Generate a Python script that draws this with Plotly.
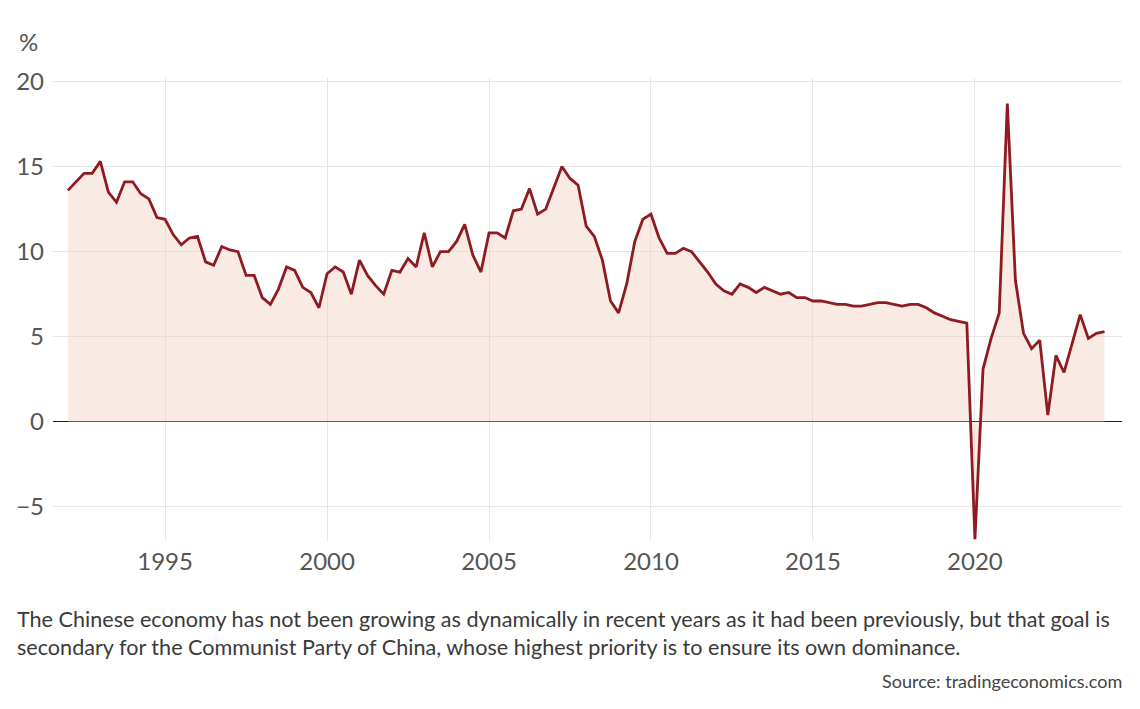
import plotly.graph_objects as go

years = list(range(1992, 2025))
gdp_growth = [
    13.6, 14.1, 14.6, 14.6,   # 1992
    15.3, 13.5, 12.9, 14.1,   # 1993
    14.1, 13.4, 13.1, 12.0,   # 1994
    11.9, 11.0, 10.4, 10.8,   # 1995
    10.9, 9.4, 9.2, 10.3,     # 1996
    10.1, 10.0, 8.6, 8.6,     # 1997
    7.3, 6.9, 7.8, 9.1,       # 1998
    8.9, 7.9, 7.6, 6.7,       # 1999
    8.7, 9.1, 8.8, 7.5,       # 2000
    9.5, 8.6, 8.0, 7.5,       # 2001
    8.9, 8.8, 9.6, 9.1,       # 2002
    11.1, 9.1, 10.0, 10.0,    # 2003
    10.6, 11.6, 9.8, 8.8,     # 2004
    11.1, 11.1, 10.8, 12.4,   # 2005
    12.5, 13.7, 12.2, 12.5,   # 2006
    13.8, 15.0, 14.3, 13.9,   # 2007
    11.5, 10.9, 9.5, 7.1,     # 2008
    6.4, 8.1, 10.6, 11.9,     # 2009
    12.2, 10.8, 9.9, 9.9,     # 2010
    10.2, 10.0, 9.4, 8.8,     # 2011
    8.1, 7.7, 7.5, 8.1,       # 2012
    7.9, 7.6, 7.9, 7.7,       # 2013
    7.5, 7.6, 7.3, 7.3,       # 2014
    7.1, 7.1, 7.0, 6.9,       # 2015
    6.9, 6.8, 6.8, 6.9,       # 2016
    7.0, 7.0, 6.9, 6.8,       # 2017
    6.9, 6.9, 6.7, 6.4,       # 2018
    6.2, 6.0, 5.9, 5.8,       # 2019
    -6.9, 3.1, 4.9, 6.4,      # 2020
    18.7, 8.3, 5.2, 4.3,      # 2021
    4.8, 0.4, 3.9, 2.9,       # 2022
    4.6, 6.3, 4.9, 5.2,       # 2023
    5.3,                      # 2024
]
quarters = [1992 + i * 0.25 for i in range(len(gdp_growth))]

x_ticks = [1995, 2000, 2005, 2010, 2015, 2020]
y_ticks = [-5, 0, 5, 10, 15, 20]

caption = ("The Chinese economy has not been growing as dynamically in recent years as it had been previously, but that goal is<br>"
           "secondary for the Communist Party of China, whose highest priority is to ensure its own dominance.")
source = "Source: tradingeconomics.com"

fig = go.Figure()
fig.add_trace(go.Scatter(
    x=quarters, y=gdp_growth, mode="lines",
    line=dict(color="#8e1b22", width=2.8),
    fill="tozeroy", fillcolor="rgba(244,208,196,0.45)",
    hoverinfo="skip", showlegend=False,
))

FONT = "Lato, 'Open Sans', sans-serif"
fig.update_layout(
    width=1140, height=709,
    margin=dict(l=45, r=26, t=70, b=176),
    paper_bgcolor="white", plot_bgcolor="white",
    font=dict(family=FONT, color="#4a4a4a"),
    xaxis=dict(
        range=[1991.54, 2024.54], tickvals=x_ticks,
        showgrid=True, gridcolor="#e6e6e6", gridwidth=1,
        zeroline=False, showline=False, ticks="",
        tickfont=dict(size=24, color="#555555"),
        ticklabelstandoff=4, automargin=False,
    ),
    yaxis=dict(
        range=[-7, 20.2], tickvals=y_ticks,
        showgrid=True, gridcolor="#e6e6e6", gridwidth=1,
        zeroline=True, zerolinecolor="#222222", zerolinewidth=1,
        showline=False, ticks="",
        tickfont=dict(size=24, color="#555555"),
        ticklabelstandoff=8, automargin=False,
    ),
    annotations=[
        dict(text="%", xref="paper", yref="paper", x=-0.034, y=1.078,
             xanchor="left", yanchor="middle", showarrow=False,
             font=dict(size=24, color="#555555", family=FONT)),
        dict(text=caption, xref="paper", yref="paper", x=-0.0355, y=-0.137,
             xanchor="left", yanchor="top", align="left", showarrow=False,
             font=dict(size=21.6, color="#3a3a3a", family=FONT)),
        dict(text=source, xref="paper", yref="paper", x=1.002, y=-0.302,
             xanchor="right", yanchor="middle", showarrow=False,
             font=dict(size=18, color="#444444", family=FONT)),
    ],
)

fig.write_html("out.html")
